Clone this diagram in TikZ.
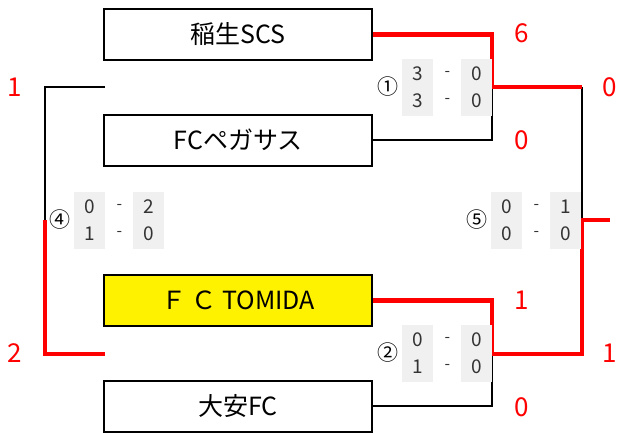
\documentclass[tikz,border=0pt]{standalone}
\usepackage{fontspec}
\setmainfont{Noto Sans CJK JP}
\usepackage{tikz}
\usetikzlibrary{calc}
\tikzset{
	team/.style={draw=black, line width=2pt, minimum width=268pt, minimum height=51pt, inner sep=0pt, font=\fontsize{25}{25}\selectfont},
	lose/.style={line width=1.6pt, color=black},
	win/.style={line width=4.5pt, color=red},
	goals/.style={color=red, font=\fontsize{26}{26}\selectfont},
	cell/.style={fill=black!6, minimum width=31pt, minimum height=57pt, inner sep=0pt, align=center, text=black!80, font=\fontsize{19}{27}\selectfont},
	dashmark/.style={text=black!80, font=\fontsize{16}{16}\selectfont},
	gameno/.style={font=\fontsize{21}{21}\selectfont}
}
\def\scorebox(#1,#2)#3#4#5{%
	\node[gameno] at (#1-30,#2) {#3};
	\node[cell] at (#1,#2) {#4};
	\node[cell] at (#1+59,#2) {#5};
	\node[dashmark] at (#1+30,#2-13) {-};
	\node[dashmark] at (#1+30,#2+14) {-};
}
\begin{document}
\begin{tikzpicture}[x=1pt, y=-1pt]
		%%%%% START %%%%%
		\useasboundingbox (0, 0) rectangle (623, 432);
		
		\node[team] (inao) at (238, 34.5) {稲生SCS};
		\node[team] (pegasus) at (238, 140) {FCペガサス};
		\node[team, fill=yellow] (tomida) at (238, 300.5) {Ｆ Ｃ TOMIDA};
		\node[team] (taian) at (238, 406) {大安FC};
		
		\coordinate (m1) at (492, 87);
		\coordinate (m2) at (492, 354);
		\coordinate (f1) at (582, 87);
		\coordinate (f2) at (582, 220);
		\coordinate (champ) at (610, 220);
		\coordinate (s1) at (105, 87);
		\coordinate (s2) at (105, 354);
		\coordinate (s3) at (45, 220);
		
		\draw[lose] (pegasus.east) -| (m1);
		\draw[lose] (taian.east) -| (m2);
		\draw[lose] (f1) -- (f2);
		\draw[lose] (s1) -| (s3);
		
		\draw[win] (inao.east) -| (m1) -- (f1);
		\draw[win] (tomida.east) -| (m2) -| (f2) -- (champ);
		\draw[win] (s3) |- (s2);
		
		\node[goals] (g1) at (522, 33) {6};
		\node[goals] (g2) at (522, 140) {0};
		\node[goals] (g3) at (522, 300) {1};
		\node[goals] (g4) at (522, 407) {0};
		\node[goals] (g5) at (610, 87) {0};
		\node[goals] (g6) at (610, 353) {1};
		\node[goals] (g7) at (15, 87) {1};
		\node[goals] (g8) at (15, 353) {2};
		
		\scorebox(417.5, 87){①}{3\\3}{0\\0}
		\scorebox(417.5, 353){②}{0\\1}{0\\0}
		\scorebox(89.5, 220){④}{0\\1}{2\\0}
		\scorebox(506.5, 220){⑤}{0\\0}{1\\0}
		
		%%%%% END %%%%%
	\end{tikzpicture}
\end{document}
